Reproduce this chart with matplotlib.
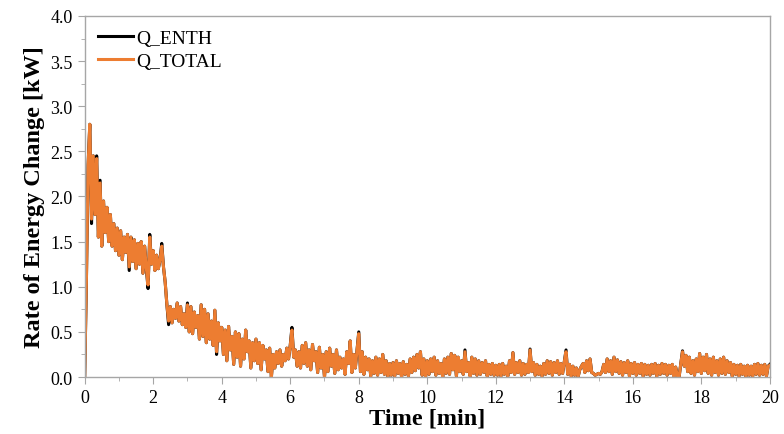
import numpy as np
import matplotlib
matplotlib.use("Agg")
import matplotlib.pyplot as plt
from matplotlib.ticker import MultipleLocator

# Rate of energy change, one value every 0.05 min (0 .. 20 min)
q_total = [
    0.00, 1.05, 2.35, 2.80, 1.75, 2.45, 1.80, 2.42, 1.55, 2.15,
    1.45, 1.95, 1.60, 1.88, 1.50, 1.80, 1.45, 1.70, 1.40, 1.65,
    1.35, 1.62, 1.30, 1.55, 1.38, 1.58, 1.22, 1.55, 1.28, 1.52,
    1.20, 1.48, 1.25, 1.50, 1.15, 1.45, 1.20, 1.02, 1.55, 1.25,
    1.40, 1.18, 1.35, 1.20, 1.30, 1.45, 1.22, 1.05, 0.80, 0.62,
    0.78, 0.60, 0.75, 0.65, 0.82, 0.62, 0.78, 0.58, 0.70, 0.55,
    0.80, 0.50, 0.78, 0.48, 0.72, 0.55, 0.68, 0.42, 0.80, 0.45,
    0.75, 0.38, 0.70, 0.42, 0.62, 0.35, 0.74, 0.28, 0.60, 0.40,
    0.55, 0.25, 0.52, 0.18, 0.56, 0.30, 0.45, 0.14, 0.50, 0.22,
    0.48, 0.12, 0.42, 0.20, 0.52, 0.28, 0.40, 0.10, 0.38, 0.18,
    0.42, 0.15, 0.38, 0.08, 0.35, 0.20, 0.30, 0.06, 0.32, 0.00,
    0.25, 0.10, 0.28, 0.15, 0.30, 0.12, 0.25, 0.18, 0.32, 0.20,
    0.35, 0.52, 0.22, 0.30, 0.12, 0.28, 0.10, 0.35, 0.15, 0.38,
    0.12, 0.30, 0.08, 0.36, 0.18, 0.28, 0.05, 0.33, 0.10, 0.25,
    0.00, 0.28, 0.06, 0.32, 0.12, 0.25, 0.04, 0.30, 0.08, 0.22,
    0.10, 0.20, 0.03, 0.28, 0.15, 0.40, 0.05, 0.25, 0.10, 0.30,
    0.48, 0.06, 0.28, 0.03, 0.22, 0.08, 0.20, 0.01, 0.18, 0.04,
    0.22, 0.02, 0.20, 0.05, 0.25, 0.03, 0.18, 0.00, 0.15, 0.02,
    0.16, 0.01, 0.18, 0.04, 0.15, 0.00, 0.17, 0.03, 0.14, 0.01,
    0.20, 0.05, 0.22, 0.07, 0.25, 0.10, 0.28, 0.02, 0.20, 0.00,
    0.18, 0.03, 0.20, 0.06, 0.22, 0.02, 0.18, 0.04, 0.15, 0.00,
    0.20, 0.04, 0.22, 0.03, 0.26, 0.08, 0.24, 0.01, 0.22, 0.06,
    0.18, 0.03, 0.28, 0.06, 0.16, 0.01, 0.22, 0.04, 0.20, 0.02,
    0.18, 0.03, 0.16, 0.05, 0.18, 0.01, 0.14, 0.03, 0.15, 0.02,
    0.13, 0.02, 0.14, 0.01, 0.15, 0.03, 0.12, 0.01, 0.18, 0.05,
    0.27, 0.03, 0.16, 0.05, 0.18, 0.02, 0.15, 0.03, 0.14, 0.05,
    0.30, 0.06, 0.16, 0.02, 0.14, 0.03, 0.12, 0.01, 0.15, 0.03,
    0.18, 0.04, 0.17, 0.02, 0.16, 0.05, 0.18, 0.03, 0.15, 0.04,
    0.17, 0.28, 0.03, 0.14, 0.01, 0.12, 0.02, 0.10, 0.00, 0.08,
    0.12, 0.15, 0.05, 0.18, 0.07, 0.20, 0.05, 0.04, 0.02, 0.03,
    0.04, 0.03, 0.06, 0.14, 0.05, 0.20, 0.06, 0.18, 0.03, 0.22,
    0.06, 0.19, 0.04, 0.17, 0.02, 0.16, 0.05, 0.18, 0.01, 0.15,
    0.04, 0.16, 0.02, 0.14, 0.04, 0.15, 0.01, 0.14, 0.03, 0.13,
    0.02, 0.14, 0.04, 0.15, 0.01, 0.13, 0.03, 0.15, 0.04, 0.14,
    0.02, 0.13, 0.04, 0.14, 0.01, 0.11, 0.01, 0.00, 0.15, 0.28,
    0.12, 0.24, 0.06, 0.22, 0.04, 0.18, 0.02, 0.20, 0.06, 0.26,
    0.04, 0.22, 0.07, 0.25, 0.04, 0.20, 0.02, 0.22, 0.05, 0.18,
    0.02, 0.20, 0.04, 0.22, 0.03, 0.18, 0.05, 0.16, 0.01, 0.14,
    0.03, 0.13, 0.01, 0.14, 0.03, 0.12, 0.00, 0.13, 0.02, 0.12,
    0.01, 0.14, 0.03, 0.15, 0.02, 0.13, 0.03, 0.14, 0.01, 0.12,
    0.13,
]

# spots where the black Q_ENTH trace peeks out from under Q_TOTAL (sample index: value)
enth_peaks = {
    4: 1.70, 7: 2.45, 9: 2.18, 26: 1.18, 38: 1.58, 37: 0.98, 45: 1.48,
    49: 0.58, 60: 0.82, 77: 0.25, 109: 0.00, 121: 0.55, 140: 0.00,
    160: 0.50, 222: 0.30, 260: 0.31, 281: 0.30, 349: 0.29, 400: 0.14,
}

time_min = np.linspace(0, 20, len(q_total))
q_enth = list(q_total)
for idx, val in enth_peaks.items():
    q_enth[idx] = val

plt.rcParams['font.family'] = ['Liberation Serif', 'DejaVu Serif']

fig = plt.figure(figsize=(7.84, 4.35), dpi=100)
ax = fig.add_axes([0.108, 0.131, 0.874, 0.830])

ax.plot(time_min, q_enth, color='black', lw=2.2, label='Q_ENTH')
ax.plot(time_min, q_total, color='#ED7D31', lw=2.2, label='Q_TOTAL')

ax.set_xlim(0, 20)
ax.set_ylim(0, 4.0)
ax.xaxis.set_major_locator(MultipleLocator(2))
ax.xaxis.set_minor_locator(MultipleLocator(1))
ax.yaxis.set_major_locator(MultipleLocator(0.5))
ax.yaxis.set_minor_locator(MultipleLocator(0.25))
ax.yaxis.set_major_formatter(matplotlib.ticker.FormatStrFormatter('%.1f'))

for sp in ax.spines.values():
    sp.set_color('#a6a6a6')
    sp.set_linewidth(1.0)
ax.tick_params(which='both', direction='out', color='#a6a6a6', labelsize=13)
ax.tick_params(which='major', length=5)
ax.tick_params(which='minor', length=3)

ax.set_xlabel('Time [min]', fontsize=17.5, fontweight='bold', labelpad=1)
ax.set_ylabel('Rate of Energy Change [kW]', fontsize=17.5, fontweight='bold', labelpad=4)

ax.legend(loc='upper left', frameon=False, fontsize=14, handlelength=1.8,
          handletextpad=0.15, borderaxespad=0.3, labelspacing=0.25)

fig.savefig('out.png', dpi=100)
